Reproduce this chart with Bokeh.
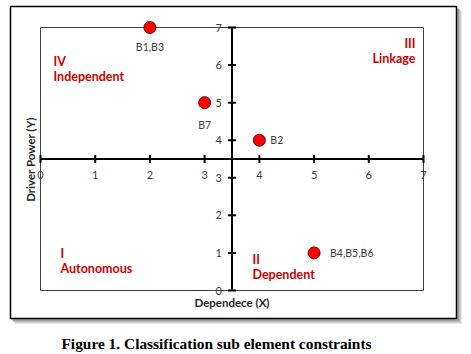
import math
from bokeh.plotting import figure
from bokeh.models import Range1d, Label, BoxAnnotation
from bokeh.core.properties import value
from bokeh.embed import file_html
from bokeh.resources import INLINE

# ---- data ----
dependence = [2, 3, 4, 5]
driver_power = [7, 5, 4, 1]
names = ["B1,B3", "B7", "B2", "B4,B5,B6"]
x_ticks = [0, 1, 2, 3, 4, 5, 6, 7]
y_ticks = [0, 1, 2, 3, 4, 5, 6, 7]
x_tick_labels = ["0", "1", "2", "3", "4", "5", "6", "7"]
y_tick_labels = ["0", "1", "2", "3", "4", "5", "6", "7"]
quadrants = ["IV\nIndependent", "III\nLinkage", "I\nAutonomous", "II\nDependent"]
x_title = "Dependece (X)"
y_title = "Driver Power (Y)"
caption = "Figure 1. Classification sub element constraints"

# ---- layout (pixel -> data mapping; plot area 40..423 x 27..290) ----
W, H = 471, 354
FL, FR, FT, FB = 40, 423, 27, 290
XMAX, YMAX = 7, 7
CROSS = 3.5
def dx(px):
    return (px - FL) / (FR - FL) * XMAX
def dy(py):
    return (FB - py) / (FB - FT) * YMAX
ux = XMAX / (FR - FL)   # data units per pixel (x)
uy = YMAX / (FB - FT)   # data units per pixel (y)

p = figure(width=W, height=H, output_backend="svg", toolbar_location=None,
           x_range=Range1d(dx(0), dx(W)), y_range=Range1d(dy(H), dy(0)),
           x_axis_location=None, y_axis_location=None, min_border=0)
p.grid.visible = False
p.outline_line_color = None
p.background_fill_color = "white"
p.border_fill_color = "white"

# outer frame with soft shadow
p.add_layout(BoxAnnotation(left=dx(14), right=dx(461), top=dy(10), bottom=dy(323),
                           fill_color="#d0d0d0", fill_alpha=1, line_color=None,
                           level="underlay"))
p.add_layout(BoxAnnotation(left=dx(12), right=dx(459), top=dy(8), bottom=dy(321),
                           fill_color="#a0a0a0", fill_alpha=1, line_color=None,
                           level="underlay"))
p.add_layout(BoxAnnotation(left=dx(10), right=dx(456), top=dy(6), bottom=dy(318),
                           fill_color="white", fill_alpha=1, line_color="black",
                           line_alpha=1, line_width=1.5, level="underlay"))

# plot-area border
p.quad(left=[0], right=[XMAX], bottom=[0], top=[YMAX], fill_color=None,
       line_color="#404040", line_width=1)

# crossing axes
p.segment(x0=[0], y0=[CROSS], x1=[XMAX], y1=[CROSS], line_color="black", line_width=2)
p.segment(x0=[CROSS], y0=[0], x1=[CROSS], y1=[YMAX], line_color="black", line_width=2)
tk = 4
p.segment(x0=x_ticks, y0=[CROSS - tk * uy] * len(x_ticks), x1=x_ticks,
          y1=[CROSS + tk * uy] * len(x_ticks), line_color="black", line_width=2)
p.segment(x0=[CROSS - tk * ux] * len(y_ticks), y0=y_ticks,
          x1=[CROSS + tk * ux] * len(y_ticks), y1=y_ticks, line_color="black", line_width=2)

font = "Lato"
tick_style = dict(text_font=value(font), text_font_size="11px", text_color="#404040",
                  text_baseline="middle")
p.text(x=x_ticks, y=[CROSS] * len(x_ticks), text=x_tick_labels, text_align="center",
       y_offset=16, **tick_style)
p.text(x=[CROSS] * len(y_ticks), y=y_ticks, text=y_tick_labels, text_align="right",
       x_offset=-10, **tick_style)

# points
p.scatter(dependence, driver_power, size=12, fill_color="#ff0000",
          line_color="#600000", line_width=1)

lab_style = dict(text_font=value(font), text_font_size="10.5px",
                 text_color="#404040", text_baseline="middle")
p.text(x=[dependence[0]], y=[driver_power[0]], text=[names[0]],
       text_align="center", y_offset=19, **lab_style)
p.text(x=[dependence[1]], y=[driver_power[1]], text=[names[1]],
       text_align="center", y_offset=22, **lab_style)
p.text(x=[dependence[2]], y=[driver_power[2]], text=[names[2]],
       text_align="left", x_offset=11, **lab_style)
p.text(x=[dependence[3]], y=[driver_power[3]], text=[names[3]],
       text_align="left", x_offset=16, **lab_style)

# quadrant labels
q_style = dict(text_font=font, text_font_style="bold", text_font_size="12.5px",
               text_color="#cc0000", text_baseline="top", text_line_height=1.0)
p.add_layout(Label(x=dx(53), y=dy(53), text=quadrants[0], text_align="left", **q_style))
p.add_layout(Label(x=dx(415), y=dy(35), text=quadrants[1], text_align="right", **q_style))
p.add_layout(Label(x=dx(60), y=dy(245), text=quadrants[2], text_align="left", **q_style))
p.add_layout(Label(x=dx(252), y=dy(251), text=quadrants[3], text_align="left", **q_style))

# axis titles
t_style = dict(text_font=font, text_font_style="bold", text_font_size="11.5px",
               text_color="#262626", text_baseline="middle", text_align="center")
p.add_layout(Label(x=dx(231.5), y=dy(302), text=x_title, **t_style))
p.add_layout(Label(x=dx(30), y=dy(159), text=y_title, angle=math.pi / 2, **t_style))

# caption
p.add_layout(Label(x=dx(216), y=dy(343), text=caption, text_font="Liberation Serif",
                   text_font_style="bold", text_font_size="15.4px", text_color="black",
                   text_baseline="middle", text_align="center"))

open("out.html", "w").write(file_html(p, INLINE))
